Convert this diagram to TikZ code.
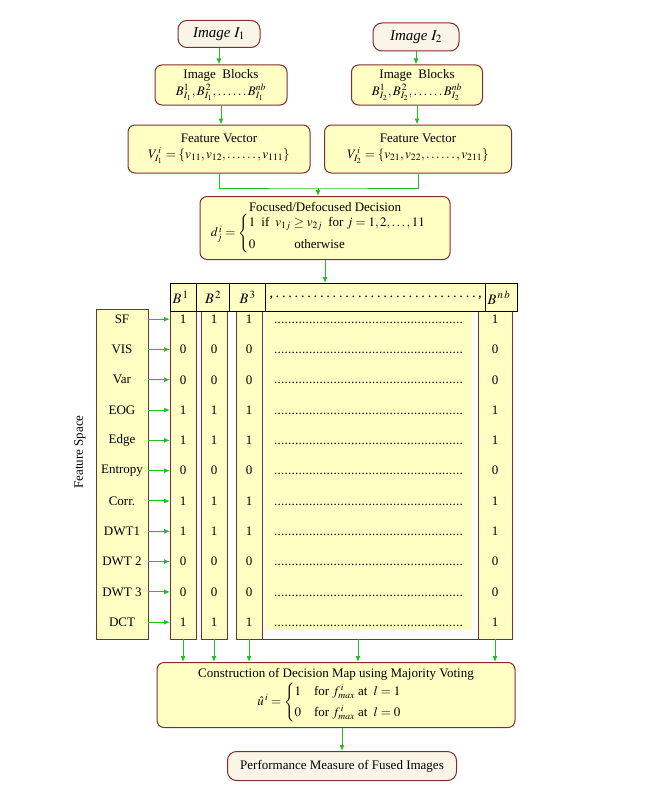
\documentclass[tikz,border=0pt,12pt]{standalone}
\usepackage{amsmath}
\usepackage{mathptmx}
\usepackage{fontspec}
\setmainfont{Liberation Serif}
\usetikzlibrary{matrix,backgrounds,arrows.meta}

\definecolor{boxfill}{RGB}{255,255,196}
\definecolor{termfill}{RGB}{251,245,232}
\definecolor{boxline}{RGB}{128,45,45}
\definecolor{flowgreen}{RGB}{35,190,35}

\newcommand{\rowdots}{\makebox[192pt]{\leaders\hbox to 3.5pt{\hss.\hss}\hfill}}

\begin{document}
\fontsize{13}{15.6}\selectfont
\begin{tikzpicture}[x=1pt, y=-1pt,
    procbox/.style={draw=boxline, fill=boxfill, line width=1pt, rounded corners=7pt,
                    align=center, inner sep=2pt},
    termbox/.style={procbox, fill=termfill, rounded corners=9pt},
    flow/.style={draw=flowgreen, line width=1pt, -{Latex[length=6pt,width=5pt]}},
    flowline/.style={draw=flowgreen, line width=1pt},
    colbox/.style={draw=boxline, fill=boxfill, line width=1pt}]
  \useasboundingbox (0,0) rectangle (658,792);

  % the two inputs
  \node[termbox, minimum width=82pt, minimum height=27pt, font=\fontsize{15}{18}\selectfont] (img1) at (219,34)
    {\itshape Image\/ $I_{1}$};
  \node[termbox, minimum width=86pt, minimum height=28pt, font=\fontsize{15}{18}\selectfont] (img2) at (416,37)
    {\itshape Image\/ $I_{2}$};
  \node[procbox, minimum width=132pt, minimum height=40pt] (blk1) at (221,85)
    {Image~~Blocks\\[1pt] $B_{I_1}^{1}, B_{I_1}^{\,2}, \ldots\ldots B_{I_1}^{nb}$};
  \node[procbox, minimum width=131pt, minimum height=40pt] (blk2) at (417,85)
    {Image~~Blocks\\[1pt] $B_{I_2}^{1}, B_{I_2}^{\,2}, \ldots\ldots B_{I_2}^{nb}$};
  \node[procbox, minimum width=182pt, minimum height=48pt] (fv1) at (219,149)
    {Feature Vector\\ $V_{I_1}^{\,i}=\left\{v_{11}, v_{12}, \ldots\ldots, v_{111}\right\}$};
  \node[procbox, minimum width=187pt, minimum height=48pt] (fv2) at (418,149)
    {Feature Vector\\ $V_{I_2}^{\,i}=\left\{v_{21}, v_{22}, \ldots\ldots, v_{211}\right\}$};
  \node[procbox, minimum width=250pt, minimum height=63pt] (dec) at (325,228)
    {Focused/Defocused Decision\\[1pt]
     $d_j^{\,i}=\begin{cases}1 \;\text{ if }\; v_{1j}\ge v_{2j}\;\text{ for } j=1,2,\ldots,11\\[3pt]
       0 \qquad\quad \text{otherwise}\end{cases}$};

  % column heads
  \matrix (hdr) [matrix of nodes, ampersand replacement=\&, anchor=north west,
                 inner sep=0pt, column sep=-1pt,
                 nodes={draw, line width=1pt, fill=boxfill, minimum height=28pt,
                        inner sep=2pt, outer sep=0pt, anchor=center, font=\large}]
    at (170,283) {
    |[text width=22pt]| $B^{\,1}$
      \& |[text width=29pt, align=center]| $B^{\,2}$
      \& |[text width=32pt, align=center]| $B^{\,3}$
      \& |[text width=216pt, align=center]| \makebox[212pt]{,\dotfill,}
      \& |[text width=28pt]| $B^{\,n\,b}$ \\
  };

  % feature rows
  \matrix (tab) [matrix of nodes, ampersand replacement=\&, anchor=north west,
                 inner sep=0pt, outer sep=0pt, column sep=0pt, row sep=0pt,
                 nodes={minimum height=30.3pt, inner sep=0pt, outer sep=0pt,
                        anchor=center, execute at begin node={\vphantom{0}}},
                 column 1/.style={nodes={minimum width=52pt}},
                 column 2/.style={nodes={minimum width=26pt}},
                 column 3/.style={nodes={minimum width=26pt}},
                 column 4/.style={nodes={minimum width=26pt}},
                 column 5/.style={nodes={minimum width=216pt}},
                 column 6/.style={nodes={minimum width=34pt}}]
    at (96,304) {
    SF      \&[22pt] 1 \&[5pt] 1 \&[9pt] 1 \& \rowdots \& 1 \\
    VIS     \& 0 \& 0 \& 0 \& \rowdots \& 0 \\
    Var     \& 0 \& 0 \& 0 \& \rowdots \& 0 \\
    EOG     \& 1 \& 1 \& 1 \& \rowdots \& 1 \\
    Edge    \& 1 \& 1 \& 1 \& \rowdots \& 1 \\
    Entropy \& 0 \& 0 \& 0 \& \rowdots \& 0 \\
    Corr.   \& 1 \& 1 \& 1 \& \rowdots \& 1 \\
    DWT1    \& 1 \& 1 \& 1 \& \rowdots \& 1 \\
    DWT 2   \& 0 \& 0 \& 0 \& \rowdots \& 0 \\
    DWT 3   \& 0 \& 0 \& 0 \& \rowdots \& 0 \\
    DCT     \& 1 \& 1 \& 1 \& \rowdots \& 1 \\
  };

  \begin{scope}[on background layer]
    \draw[colbox] ([yshift=-5pt]tab-1-1.north west) rectangle ([yshift=-2pt]tab-11-1.south east);
    \draw[colbox] (tab-1-2.north west) rectangle ([yshift=-2pt]tab-11-2.south east);
    \draw[colbox] (tab-1-3.north west) rectangle ([yshift=-2pt]tab-11-3.south east);
    \draw[colbox] (tab-1-4.north west) rectangle ([yshift=-2pt]tab-11-4.south east);
    \draw[colbox, fill=white] (tab-1-5.north west) rectangle ([yshift=-2pt]tab-11-5.south east);
    \fill[boxfill] ([xshift=3pt]tab-1-5.north west) rectangle ([xshift=-6pt,yshift=7pt]tab-11-5.south east);
    \draw[colbox] (tab-1-6.north west) rectangle ([yshift=-2pt]tab-11-6.south east);
  \end{scope}

  \node[rotate=90] (fspace) at (80,452) {Feature Space};

  \node[procbox, minimum width=358pt, minimum height=65pt] (cons) at (336,695)
    {Construction of Decision Map using Majority Voting\\[1pt]
     $\hat{u}^{\,i} = \begin{cases} 1 \quad \text{for } f_{max}^{\,i} \text{ at }\; l=1\\[2pt]
       0 \quad \text{for } f_{max}^{\,i} \text{ at }\; l=0\end{cases}$};
  \node[termbox, minimum width=229pt, minimum height=29pt] (perf) at (342,766)
    {Performance Measure of Fused Images};

  % connectors
  \draw[flow] (img1.south) -- (img1.south |- blk1.north);
  \draw[flow] (img2.south) -- (img2.south |- blk2.north);
  \draw[flow] (blk1.south) -- (blk1.south |- fv1.north);
  \draw[flow] (blk2.south) -- (blk2.south |- fv2.north);
  \coordinate (merge) at (318,188);
  \draw[flowline] (fv1.south) |- (merge) -| (fv2.south);
  \draw[flow] (merge) -- (merge |- dec.north);
  \draw[flow] (dec.south) -- (dec.south |- hdr.north);

  \draw[flow] (tab-1-1.east) -- (tab-1-2.west);
  \draw[flow] (tab-2-1.east) -- (tab-2-2.west);
  \draw[flow] (tab-3-1.east) -- (tab-3-2.west);
  \draw[flow] (tab-4-1.east) -- (tab-4-2.west);
  \draw[flow] (tab-5-1.east) -- (tab-5-2.west);
  \draw[flow] (tab-6-1.east) -- (tab-6-2.west);
  \draw[flow] (tab-7-1.east) -- (tab-7-2.west);
  \draw[flow] (tab-8-1.east) -- (tab-8-2.west);
  \draw[flow] (tab-9-1.east) -- (tab-9-2.west);
  \draw[flow] (tab-10-1.east) -- (tab-10-2.west);
  \draw[flow] (tab-11-1.east) -- (tab-11-2.west);

  \coordinate (out1) at ([yshift=-2pt]tab-11-2.south);
  \coordinate (out2) at ([yshift=-2pt]tab-11-3.south);
  \coordinate (out3) at ([yshift=-2pt]tab-11-4.south);
  \coordinate (outdots) at ([xshift=-12pt,yshift=-2pt]tab-11-5.south);
  \coordinate (outnb) at ([yshift=-2pt]tab-11-6.south);
  \draw[flow] (out1) -- (out1 |- cons.north);
  \draw[flow] (out2) -- (out2 |- cons.north);
  \draw[flow] (out3) -- (out3 |- cons.north);
  \draw[flow] (outdots) -- (outdots |- cons.north);
  \draw[flow] (outnb) -- (outnb |- cons.north);
  \draw[flow] (perf.north |- cons.south) -- (perf.north);
\end{tikzpicture}
\end{document}
